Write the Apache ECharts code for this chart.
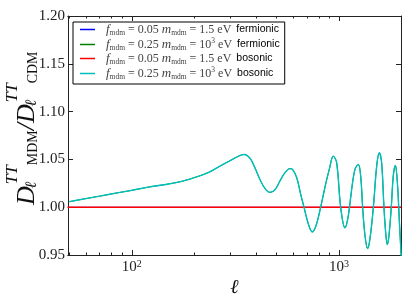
<!DOCTYPE html>
<html>
<head>
<meta charset="utf-8">
<script src="https://cdn.jsdelivr.net/npm/echarts@6/dist/echarts.min.js"></script>
<style>html,body{margin:0;padding:0;background:#fff;}#c{width:411px;height:308px;}</style>
</head>
<body>
<div id="c"></div>
<script>
// ---- data ----
var ellOsc = [50, 60, 70, 85, 101, 120, 146, 176, 211, 235, 255, 280, 306, 328, 349, 372, 392.7, 415, 439, 464, 491, 519, 549, 580, 597, 625, 653, 678, 711, 743, 774, 816, 856, 898, 939, 975, 1019, 1069, 1110, 1152, 1195, 1240, 1273, 1301, 1335, 1376, 1412, 1466, 1521, 1566, 1607, 1649, 1680, 1711, 1744, 1789, 1829, 1871, 1914, 1958, 2000];
var ratioOsc = [1.0058, 1.009, 1.0116, 1.015, 1.0178, 1.021, 1.0238, 1.0273, 1.0325, 1.0365, 1.0406, 1.0455, 1.05, 1.0535, 1.0552, 1.0512, 1.0414, 1.0293, 1.0197, 1.0155, 1.0182, 1.0275, 1.0362, 1.0404, 1.0396, 1.031, 1.0138, 1.0, 0.9827, 0.9741, 0.9803, 1.0, 1.021, 1.0396, 1.0534, 1.0466, 1.0, 0.9783, 0.9913, 1.0189, 1.0396, 1.0448, 1.0327, 1.0, 0.9706, 0.9568, 0.9672, 1.0, 1.043, 1.0569, 1.0466, 1.0, 0.9741, 0.961, 0.9706, 1.0, 1.0327, 1.0438, 1.0259, 0.9845, 0.946];
var ellFlat = [49, 2000];
var ratioFlat = [1.0, 1.0];

var seriesNames = ['f0.05 m1.5 fermionic', 'f0.25 m1e3 fermionic', 'f0.05 m1.5 bosonic', 'f0.25 m1e3 bosonic'];
var seriesColors = ['#0000ff', '#008000', '#ff0000', '#00bfbf'];
var seriesWidths = [0.7, 1.0, 1.6, 1.4];
var legendF = ['0.05', '0.25', '0.05', '0.25'];
var legendMBase = ['1.5', '10', '1.5', '10'];
var legendMExp = ['', '3', '', '3'];
var legendKind = ['fermionic', 'fermionic', 'bosonic', 'bosonic'];

var xMin = 49.2, xMax = 1993;
var xMajor = [100, 1000];
var xMinor = [50, 60, 70, 80, 90, 200, 300, 400, 500, 600, 700, 800, 900];
var yMin = 0.95, yMax = 1.20, yStep = 0.05;

function pair(xs, ys) { return xs.map(function (x, i) { return [x, ys[i]]; }); }
var seriesData = [pair(ellFlat, ratioFlat), pair(ellOsc, ratioOsc), pair(ellFlat, ratioFlat), pair(ellOsc, ratioOsc)];

var SERIF = 'Liberation Serif, DejaVu Serif, serif';
var axisColor = '#222';

function xAxisDef(pos, ticks, len, labels) {
  return {
    type: 'log', logBase: 10, min: xMin, max: xMax, position: pos,
    axisLine: { show: true, lineStyle: { color: axisColor, width: 1 } },
    axisTick: { show: true, inside: true, length: len, customValues: ticks, lineStyle: { color: axisColor } },
    axisLabel: labels ? {
      show: true, customValues: xMajor, margin: 4,
      formatter: function (v) { return '{a|10}{b|' + Math.round(Math.log10(v)) + '}'; },
      rich: {
        a: { fontFamily: SERIF, fontSize: 15, color: '#222', lineHeight: 16, verticalAlign: 'bottom' },
        b: { fontFamily: SERIF, fontSize: 10, color: '#222', verticalAlign: 'top', lineHeight: 16 }
      }
    } : { show: false },
    splitLine: { show: false }, minorTick: { show: false }
  };
}
function yAxisDef(pos, labels) {
  var ax = {
    type: 'value', min: yMin, max: yMax, interval: yStep, position: pos,
    axisLine: { show: true, lineStyle: { color: axisColor, width: 1 } },
    axisTick: { show: true, inside: true, length: 5, lineStyle: { color: axisColor } },
    axisLabel: labels ? { show: true, margin: 3, fontFamily: SERIF, fontSize: 15, color: '#222',
      formatter: function (v) { return v.toFixed(2); } } : { show: false },
    splitLine: { show: false }
  };
  if (labels) {
    ax.name = '{H| }{D|D}{l|ℓ}{T|TT}{M|MDM}{D|/D}{l|ℓ}{T|TT}{M|CDM}';
    ax.nameLocation = 'middle';
    ax.nameRotate = 90;
    ax.nameGap = 28;
    ax.nameMoveOverlap = false;
    ax.nameTextStyle = {
      padding: [0, 0, 0, 14],
      rich: {
        H: { fontSize: 2, lineHeight: 36 },
        D: { fontFamily: SERIF, fontStyle: 'italic', fontSize: 26, color: '#111', lineHeight: 18, verticalAlign: 'bottom' },
        l: { fontFamily: SERIF, fontStyle: 'italic', fontSize: 16, color: '#111', width: 2, verticalAlign: 'bottom', lineHeight: 10 },
        T: { fontFamily: SERIF, fontStyle: 'italic', fontSize: 17, color: '#111', verticalAlign: 'top', lineHeight: 19 },
        M: { fontFamily: SERIF, fontSize: 14, color: '#111', verticalAlign: 'bottom', lineHeight: 17 }
      }
    };
  }
  return ax;
}

var chart = echarts.init(document.getElementById('c'), null, { renderer: 'canvas' });
var legendRich = {
  f: { fontFamily: SERIF, fontStyle: 'italic', fontSize: 13, color: '#444', lineHeight: 15, verticalAlign: 'middle' },
  s: { fontFamily: SERIF, fontSize: 7.5, color: '#444', verticalAlign: 'bottom', lineHeight: 15 },
  n: { fontFamily: SERIF, fontSize: 12, color: '#444', lineHeight: 15, verticalAlign: 'middle' },
  e: { fontFamily: SERIF, fontSize: 7.5, color: '#444', verticalAlign: 'top', lineHeight: 15 },
  k: { fontFamily: 'Liberation Sans, Arial, sans-serif', fontSize: 10.5, color: '#000', lineHeight: 15, padding: [0, 0, 0, 5], verticalAlign: 'middle' }
};
chart.setOption({
  animation: false,
  backgroundColor: '#fff',
  grid: { left: 68, right: 10, top: 16, bottom: 53, containLabel: false, outerBoundsMode: 'none' },
  legend: {
    left: 73, top: 22, orient: 'vertical',
    data: seriesNames.map(function (n) { return { name: n, icon: 'rect' }; }),
    itemWidth: 15, itemHeight: 1.5, itemGap: 0,
    padding: [1, 5, 3, 7],
    borderColor: '#000', borderWidth: 1, backgroundColor: '#fff',
    formatter: function (name) {
      var i = seriesNames.indexOf(name);
      var m = '{n|' + legendMBase[i] + '}' + (legendMExp[i] ? '{e|' + legendMExp[i] + '}' : '');
      return '{f|f}{s|mdm}{n| = ' + legendF[i] + ' }{f|m}{s|mdm}{n| = }' + m + '{n| eV}{k|' + legendKind[i] + '}';
    },
    textStyle: { rich: legendRich, padding: [0, 0, 0, 6] }
  },
  xAxis: [
    Object.assign(xAxisDef('bottom', xMajor, 5, true), { name: 'ℓ', nameLocation: 'middle', nameGap: 23, nameMoveOverlap: false,
      nameTextStyle: { fontFamily: SERIF, fontStyle: 'italic', fontSize: 20, color: '#111' } }),
    xAxisDef('bottom', xMinor, 2.5, false),
    xAxisDef('top', xMajor, 5, false),
    xAxisDef('top', xMinor, 2.5, false)
  ],
  yAxis: [yAxisDef('left', true), yAxisDef('right', false)],
  series: seriesNames.map(function (n, i) {
    return {
      name: n, type: 'line', data: seriesData[i], xAxisIndex: 0, yAxisIndex: 0,
      showSymbol: false, symbol: 'none', smooth: 0.35, clip: true,
      lineStyle: { color: seriesColors[i], width: seriesWidths[i] }, itemStyle: { color: seriesColors[i] }, z: 2 + i
    };
  })
});
</script>
</body>
</html>
